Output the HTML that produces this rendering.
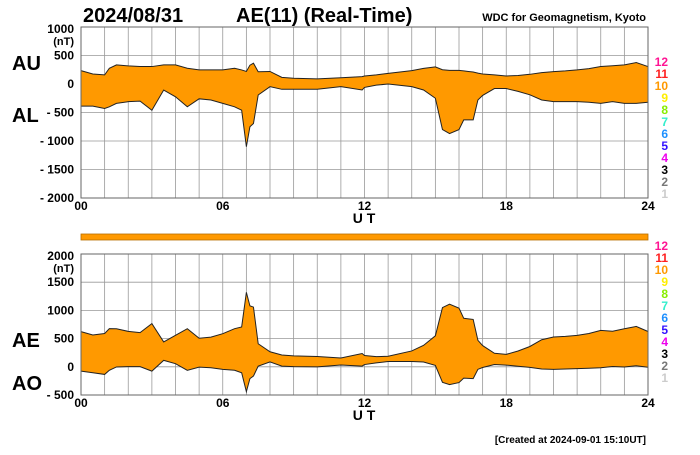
<!DOCTYPE html>
<html><head><meta charset="utf-8"><style>
body{margin:0;background:#fff;width:700px;height:450px;overflow:hidden}
text{font-family:"Liberation Sans",sans-serif;font-weight:bold}
</style></head><body>
<svg id="c" width="700" height="450" xmlns="http://www.w3.org/2000/svg">
<text x="83" y="22" font-size="20">2024/08/31</text>
<text x="236" y="22" font-size="20">AE(11) (Real-Time)</text>
<text x="646" y="21" font-size="11" text-anchor="end">WDC for Geomagnetism, Kyoto</text>
<text x="12" y="70" font-size="20">AU</text>
<text x="12" y="122" font-size="20">AL</text>
<text x="12" y="347" font-size="20">AE</text>
<text x="12" y="390" font-size="20">AO</text>
<rect x="81" y="234" width="567" height="6" fill="#f90" stroke="#b86e00" stroke-width="0.8"/>
<text x="646" y="443" font-size="10" text-anchor="end">[Created at 2024-09-01 15:10UT]</text>
</svg>
<script>
const hours=[0,0.5,1,1.2,1.5,2,2.5,3,3.5,4,4.5,5,5.5,6,6.5,6.8,7,7.15,7.3,7.5,8,8.5,9,10,11,11.9,12,12.5,13,14,14.5,15,15.3,15.6,16,16.2,16.4,16.6,16.8,17,17.5,18,18.5,19,19.5,20,20.5,21,21.5,22,22.5,23,23.5,24];
const au=[235,176,160,276,335,318,306,306,335,335,276,247,247,247,276,247,220,330,365,216,220,117,100,90,110,130,140,160,187,234,275,300,250,240,240,230,220,210,190,176,160,141,150,170,200,218,230,247,270,306,320,335,376,306];
const al=[-388,-388,-430,-400,-340,-310,-300,-460,-106,-224,-400,-260,-280,-340,-400,-460,-1100,-750,-694,-193,-47,-93,-93,-93,-47,-105,-60,-20,0,-47,-105,-250,-800,-870,-800,-630,-630,-630,-280,-200,-80,-80,-130,-190,-280,-310,-310,-310,-320,-340,-310,-340,-340,-320];
const topTicks=[1000,500,0,-500,-1000,-1500,-2000];
const botTicks=[2000,1500,1000,500,0,-500];
const xTicks=["00","06","12","18","24"];
const legendNums=["12","11","10","9","8","7","6","5","4","3","2","1"];
const legendCols=["#ff1493","#ff2020","#ff9900","#ffee00","#88ee00","#33eecc","#1e90ff","#3311ff","#ee00ee","#000","#777","#ccc"];
const NS="http://www.w3.org/2000/svg",svg=document.getElementById('c');
const X0=81,X1=648;
const xs=h=>X0+(X1-X0)*h/24;
function mk(t,a){const e=document.createElementNS(NS,t);for(const k in a)e.setAttribute(k,a[k]);svg.appendChild(e);return e;}
function panel(top,bot,vmax,vmin,ticks,upper,lower,pfx,uty,legY){
  const ys=v=>top+(bot-top)*(vmax-v)/(vmax-vmin);
  const g=document.createElementNS(NS,'g');svg.appendChild(g);
  
  
  for(let h=0;h<=24;h++){const l=document.createElementNS(NS,'line');l.setAttribute('x1',xs(h));l.setAttribute('x2',xs(h));l.setAttribute('y1',top);l.setAttribute('y2',bot);l.setAttribute('stroke','#999');l.setAttribute('stroke-width','0.8');g.appendChild(l);}
  ticks.forEach(v=>{const l=document.createElementNS(NS,'line');l.setAttribute('x1',X0);l.setAttribute('x2',X1);l.setAttribute('y1',ys(v));l.setAttribute('y2',ys(v));l.setAttribute('stroke','#999');l.setAttribute('stroke-width','0.8');g.appendChild(l);
    const t=mk('text',{x:74,y:ys(v)+(v===vmax?6:4),'font-size':12,'text-anchor':'end'});t.textContent=v<0?'- '+(-v):String(v);
    
    
  });
  const u=mk('text',{x:74,y:ys(vmax)+18,'font-size':11,'text-anchor':'end'});u.textContent='(nT)';
  
  
  let d='M'+hours.map((h,i)=>xs(h)+','+ys(upper[i])).join('L');
  for(let i=hours.length-1;i>=0;i--)d+='L'+xs(hours[i])+','+ys(lower[i]);
  const a=mk('path',{d:d+'Z',fill:'#f90',stroke:'none'});
  
  
  const l1=mk('path',{d:'M'+hours.map((h,i)=>xs(h)+','+ys(upper[i])).join('L'),fill:'none',stroke:'#222','stroke-width':1});
  
  
  const l2=mk('path',{d:'M'+hours.map((h,i)=>xs(h)+','+ys(lower[i])).join('L'),fill:'none',stroke:'#222','stroke-width':1});
  
  
  const f=mk('rect',{x:X0,y:top,width:X1-X0,height:bot-top,fill:'none',stroke:'#666','stroke-width':1});
  
  
  xTicks.forEach((s,i)=>{const t=mk('text',{x:xs(i*6),y:bot+12,'font-size':12,'text-anchor':'middle'});t.textContent=s;
    
    });
  const ut=mk('text',{x:364,y:uty,'font-size':14,'text-anchor':'middle'});ut.textContent='U T';
  
  
  legendNums.forEach((n,i)=>{const t=mk('text',{x:668,y:legY+i*12,'font-size':12,'text-anchor':'end',fill:legendCols[i]});t.textContent=n;
    
    });
}
panel(27,198,1000,-2000,topTicks,au,al,'au-al',223,66);
const ae=au.map((v,i)=>v-al[i]);
const ao=au.map((v,i)=>(v+al[i])/2);
panel(254,395,2000,-500,botTicks,ae,ao,'ae-ao',420,250);
</script>
</body></html>
